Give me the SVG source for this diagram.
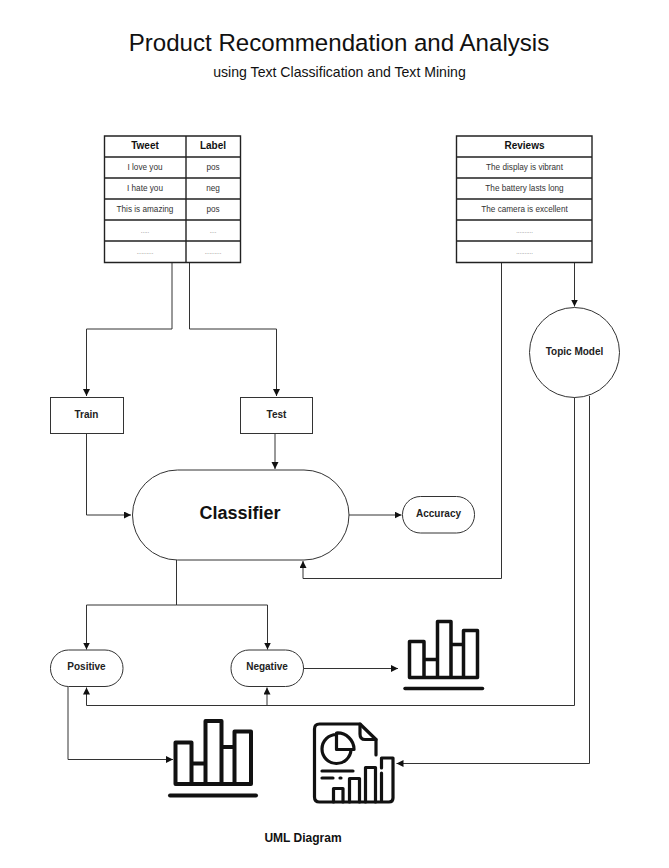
<svg xmlns="http://www.w3.org/2000/svg" width="669" height="868" viewBox="0 0 669 868">
<style>
text{font-family:"Liberation Sans",Arial,sans-serif;fill:#111;text-anchor:middle}
.b{font-weight:bold}
.th{font-size:10px;font-weight:bold}
.td{font-size:8.2px;fill:#333}
.dots{font-size:6px;fill:#555}
.lb{font-size:10px;font-weight:bold;fill:#222}
.box{fill:#fff;stroke:#333;stroke-width:1}
.tb{fill:none;stroke:#222;stroke-width:1.4}
.c{fill:none;stroke:#333;stroke-width:1}
.ic{fill:none;stroke:#111;stroke-linejoin:round;stroke-linecap:round}
</style>
<defs>
<marker id="a" markerUnits="userSpaceOnUse" markerWidth="8" markerHeight="8" refX="7" refY="3.5" orient="auto"><path d="M0 0L7 3.5L0 7Z" fill="#111"/></marker>
</defs>
<rect width="669" height="868" fill="#fff"/>
<text x="339" y="51" font-size="24.100">Product Recommendation and Analysis</text>
<text x="339.500" y="77" font-size="14.100">using Text Classification and Text Mining</text>
<g id="connectors">
<path class="c" d="M172 263V329H86.500V396" marker-end="url(#a)"/>
<path class="c" d="M189.500 263V329H276.500V396" marker-end="url(#a)"/>
<path class="c" d="M86.500 434V515H131" marker-end="url(#a)"/>
<path class="c" d="M275 434V469" marker-end="url(#a)"/>
<path class="c" d="M349 515H401.500" marker-end="url(#a)"/>
<path class="c" d="M501.500 263V578.500H303V561" marker-end="url(#a)"/>
<path class="c" d="M574.500 263V306.500" marker-end="url(#a)"/>
<path class="c" d="M574.500 397V705.500H86.500V687.500" marker-end="url(#a)"/>
<path class="c" d="M267 705.500V687.500" marker-end="url(#a)"/>
<path class="c" d="M589.500 396V763.500H396.500" marker-end="url(#a)"/>
<path class="c" d="M176.500 560V605H86.500V649.500" marker-end="url(#a)"/>
<path class="c" d="M176.500 605H267.500V649.500" marker-end="url(#a)"/>
<path class="c" d="M303 668.500H398" marker-end="url(#a)"/>
<path class="c" d="M68 687V759.500H173" marker-end="url(#a)"/>
</g>
<g id="tweets">
<path class="tb" d="M104.500 136H240.500V262.500H104.500ZM104.500 157H240.500M104.500 178H240.500M104.500 199H240.500M104.500 220H240.500M104.500 241H240.500M186 136V262.500"/>
<text class="th" x="145" y="149">Tweet</text><text class="th" x="213" y="149">Label</text>
<text class="td" x="145" y="170">I love you</text><text class="td" x="213" y="170">pos</text>
<text class="td" x="145" y="191">I hate you</text><text class="td" x="213" y="191">neg</text>
<text class="td" x="145" y="212">This is amazing</text><text class="td" x="213" y="212">pos</text>
<text class="dots" x="145" y="233">.....</text><text class="dots" x="213" y="233">....</text>
<text class="dots" x="145" y="254">..........</text><text class="dots" x="213" y="254">..........</text>
</g>
<g id="reviews">
<path class="tb" d="M456.500 136H592V262.500H456.500ZM456.500 157H592M456.500 178H592M456.500 199H592M456.500 220H592M456.500 241H592"/>
<text class="th" x="524.500" y="149">Reviews</text>
<text class="td" x="524.500" y="170">The display is vibrant</text>
<text class="td" x="524.500" y="191">The battery lasts long</text>
<text class="td" x="524.500" y="212">The camera is excellent</text>
<text class="dots" x="524.500" y="233">..........</text>
<text class="dots" x="524.500" y="254">..........</text>
</g>
<g id="topic-model"><circle class="box" cx="574.500" cy="352.500" r="45"/><text class="lb" x="574.500" y="355">Topic Model</text></g>
<g id="train"><rect class="box" x="50.500" y="397.500" width="73" height="36"/><text class="lb" x="86.500" y="418">Train</text></g>
<g id="test"><rect class="box" x="240.500" y="397.500" width="72" height="36"/><text class="lb" x="276.500" y="418">Test</text></g>
<g id="classifier"><rect class="box" x="132.500" y="470" width="216.500" height="90" rx="45" ry="45"/><text class="b" x="240" y="519" font-size="18">Classifier</text></g>
<g id="accuracy"><rect class="box" x="402.500" y="496.500" width="72" height="36.500" rx="18" ry="18"/><text class="lb" x="438.500" y="517">Accuracy</text></g>
<g id="positive"><rect class="box" x="50.500" y="650" width="72.500" height="36.500" rx="18" ry="18"/><text class="lb" x="86.500" y="670">Positive</text></g>
<g id="negative"><rect class="box" x="231" y="650" width="72.500" height="36.500" rx="18" ry="18"/><text class="lb" x="267" y="670">Negative</text></g>
<g id="chart-negative">
<path class="ic" stroke-width="3.500" d="M409.500 677.500V641.500H424V677.500ZM424 677.500V659.500H437.500V677.500ZM437.500 677.500V621.500H451V677.500ZM451 677.500V644.500H463.500V677.500ZM463.500 677.500V630.500H477.500V677.500Z"/>
<path class="ic" stroke-width="3.500" d="M405 688.500H482.500"/>
</g>
<g id="chart-positive">
<path class="ic" stroke-width="4" d="M175.500 784V742.500H191.500V784ZM191.500 784V763.500H205.500V784ZM205.500 784V721H221.500V784ZM221.500 784V747H234.500V784ZM234.500 784V731.500H251V784Z"/>
<path class="ic" stroke-width="4" d="M170 795.500H256"/>
</g>
<g id="report">
<path class="ic" stroke-width="3.200" d="M376 755V739.500L360 724H319.500Q314.500 724 314.500 729V797Q314.500 802 319.500 802H389Q393 802 393 798V758H381.500V768M381.500 773V802"/>
<path class="ic" stroke-width="3.200" d="M360 724V734Q360 739.500 365 739.500H376"/>
<path class="ic" stroke-width="3.200" d="M336.500 734.500A14.500 14.500 0 1 0 351 749.500H336.500ZM336.500 733A16.500 16.500 0 0 1 354 749.500H336.500Z"/>
<path class="ic" stroke-width="3.200" d="M322 771H353M322 778H333M340 778H341M333.500 802V788.500H343V802M349.500 802V778.500H359.500V802M365.500 802V767.500H375.500V802"/>
</g>
<text class="b" x="303" y="842" font-size="12" fill="#222">UML Diagram</text>
</svg>
